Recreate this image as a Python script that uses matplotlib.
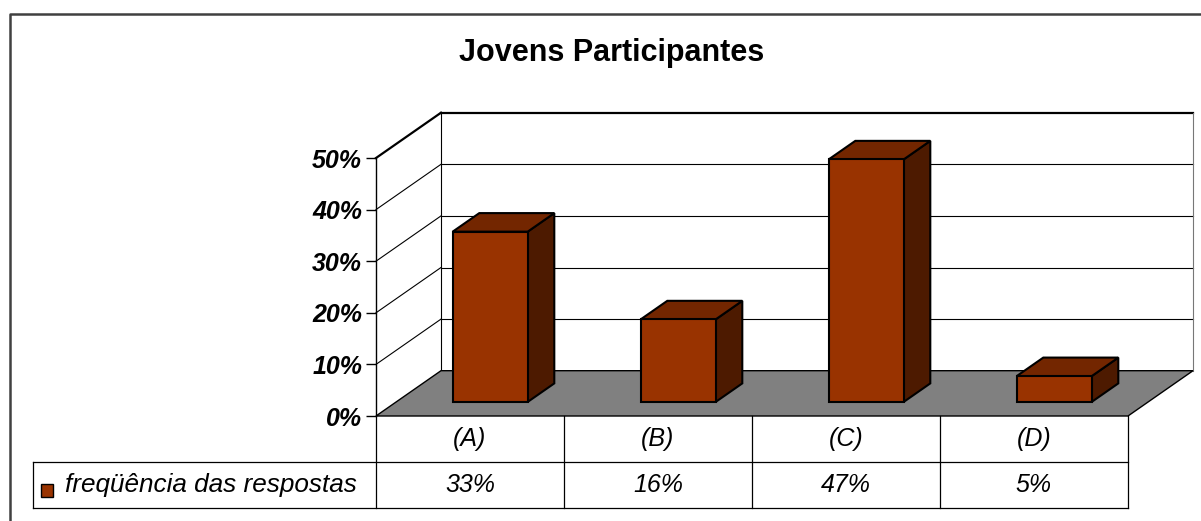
import matplotlib
matplotlib.use('Agg')
import matplotlib.pyplot as plt
from matplotlib.patches import Polygon, Rectangle
from matplotlib.lines import Line2D

plt.rcParams['font.family'] = ['Liberation Sans', 'DejaVu Sans']

# data
title = 'Jovens Participantes'
categories = ['(A)', '(B)', '(C)', '(D)']
frequencias = [33, 16, 47, 5]
series_name = 'freqüência das respostas'
y_ticks = [0, 10, 20, 30, 40, 50]

front_color = '#993300'
top_color = '#732600'
side_color = '#4d1a00'
floor_color = '#808080'

W, H = 1201, 521
fig = plt.figure(figsize=(W / 100, H / 100), dpi=100)

# axes = front plane of the 3D box (categories on x, percent on y)
ax = fig.add_axes([376 / W, 1 - 416 / H, 752 / W, 258 / H])
n = len(categories)
ymax = y_ticks[-1]
ax.set_xlim(0, n)
ax.set_ylim(0, ymax)
ax.patch.set_visible(False)
for s in ['top', 'right', 'bottom']:
    ax.spines[s].set_visible(False)
ax.spines['left'].set_linewidth(1.0)
ax.spines['left'].set_zorder(4)
ax.set_xticks([])
ax.set_yticks(y_ticks)
ax.set_yticklabels(['{}%'.format(v) for v in y_ticks],
                   fontsize=18, fontweight='bold', fontstyle='italic')
ax.tick_params(axis='y', direction='out', length=7, width=1, pad=3)

# depth of the box, in data units
DX = 65 / 188 * n / 4
DY = 45.3 / (258 / ymax)

# side wall and back wall
ax.add_patch(Polygon([(0, 0), (DX, DY), (DX, ymax + DY), (0, ymax)], closed=True,
                     facecolor='white', edgecolor='none', zorder=0, clip_on=False))
ax.add_patch(Rectangle((DX, DY), n, ymax, facecolor='white', edgecolor='none',
                       zorder=0, clip_on=False))
for v in y_ticks[1:]:
    lw = 1.6 if v == ymax else 0.8
    ax.plot([0, DX], [v, v + DY], color='black', lw=lw, zorder=1, clip_on=False)
    ax.plot([DX, n + DX], [v + DY, v + DY], color='black', lw=lw, zorder=1,
            clip_on=False)
ax.plot([DX, DX], [DY, ymax + DY], color='black', lw=0.8, zorder=1, clip_on=False)
ax.plot([n + DX, n + DX], [DY, ymax + DY], color='#777777', lw=0.8, zorder=1,
        clip_on=False)

# floor
ax.add_patch(Polygon([(0, 0), (n, 0), (n + DX, DY), (DX, DY)], closed=True,
                     facecolor=floor_color, edgecolor='black', lw=1.0, zorder=2,
                     clip_on=False))

# 3D bars
bw = 75 / 188
d0, d1 = 0.31, 0.72
ox, oy = (d1 - d0) * DX, (d1 - d0) * DY
for i, v in enumerate(frequencias):
    x0 = i + (1 - bw) / 2 + d0 * DX
    y0 = d0 * DY
    kw = dict(edgecolor='black', lw=1.5, joinstyle='miter', zorder=3, clip_on=False)
    ax.add_patch(Polygon([(x0 + bw, y0), (x0 + bw + ox, y0 + oy),
                          (x0 + bw + ox, y0 + v + oy), (x0 + bw, y0 + v)],
                         closed=True, facecolor=side_color, **kw))
    ax.add_patch(Polygon([(x0, y0 + v), (x0 + bw, y0 + v),
                          (x0 + bw + ox, y0 + v + oy), (x0 + ox, y0 + v + oy)],
                         closed=True, facecolor=top_color, **kw))
    ax.add_patch(Rectangle((x0, y0), bw, v, facecolor=front_color, **kw))

# data table under the chart
rh = 46 / 258
left = (33 - 376) / 752
tk = dict(transform=ax.transAxes, color='black', lw=0.9, clip_on=False)
for k in range(n + 1):
    ax.add_line(Line2D([k / n, k / n], [0, -2 * rh], **tk))
ax.add_line(Line2D([left, 1], [-rh, -rh], **tk))
ax.add_line(Line2D([left, 1], [-2 * rh, -2 * rh], **tk))
ax.add_line(Line2D([left, left], [-rh, -2 * rh], **tk))
for k, (cat, v) in enumerate(zip(categories, frequencias)):
    xc = (k + 0.5) / n
    ax.text(xc, -rh / 2, cat, transform=ax.transAxes, ha='center', va='center',
            fontsize=18, fontstyle='italic')
    ax.text(xc, -1.5 * rh, '{}%'.format(v), transform=ax.transAxes, ha='center',
            va='center', fontsize=18, fontstyle='italic')
ax.add_patch(Rectangle(((40.5 - 376) / 752, (416 - 496.5) / 258), 13 / 752, 13 / 258,
                       transform=ax.transAxes, facecolor=front_color,
                       edgecolor='black', lw=1.0, clip_on=False))
ax.text((65 - 376) / 752, -1.5 * rh, series_name, transform=ax.transAxes,
        ha='left', va='center', fontsize=18.8, fontstyle='italic')

# title and outer frame
fig.text(612 / W, 1 - 53 / H, title, ha='center', va='center',
         fontsize=22, fontweight='bold')
fig.add_artist(Line2D([9.5 / W, 9.5 / W, 1], [0, 1 - 13.5 / H, 1 - 13.5 / H],
                      transform=fig.transFigure, color='#404040', lw=1.8))

fig.savefig('out.png', dpi=100)
